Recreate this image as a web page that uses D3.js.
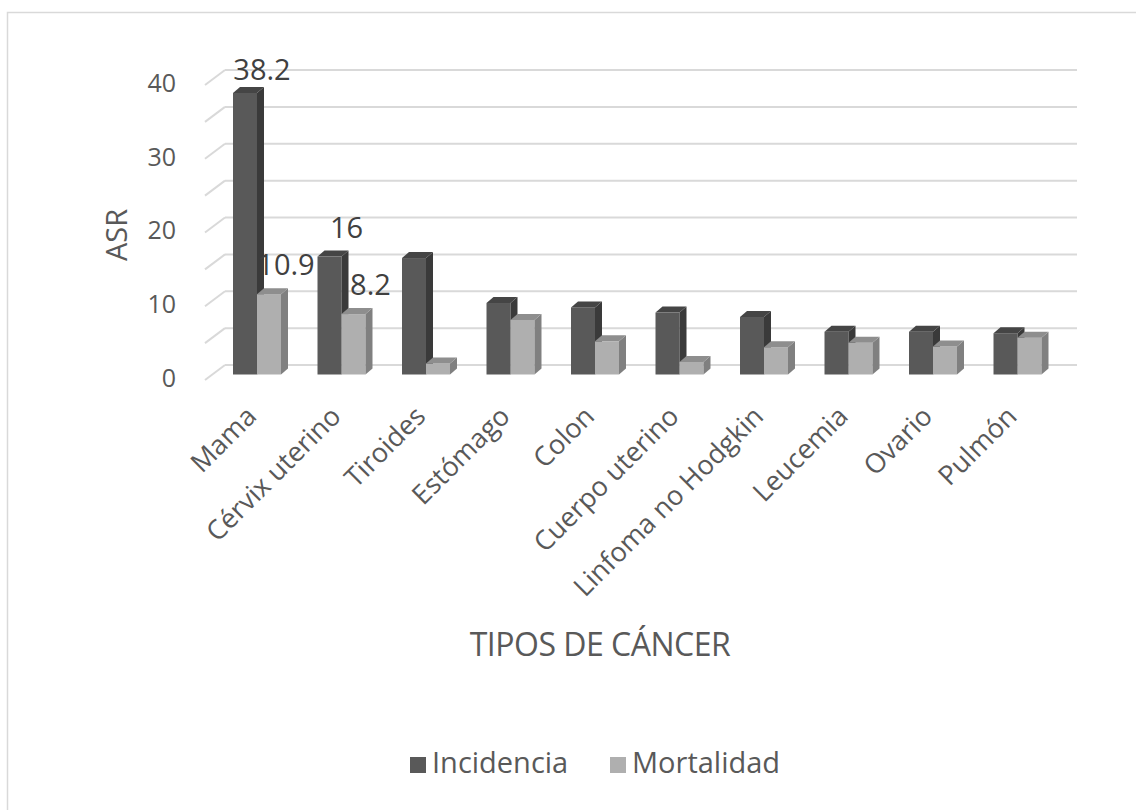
<!DOCTYPE html>
<head>
<meta charset="utf-8">
<script src="https://d3js.org/d3.v7.min.js"></script>
<style>
body { margin: 0; background-color: #ffffff; }
text { font-family: "Open Sans", "Noto Sans", sans-serif; fill: #595959; }
</style>
</head>
<body>
<div id="my_dataviz"></div>
<script>

// data
var categories = ["Mama", "Cérvix uterino", "Tiroides", "Estómago", "Colon",
  "Cuerpo uterino", "Linfoma no Hodgkin", "Leucemia", "Ovario", "Pulmón"];
var series = ["Incidencia", "Mortalidad"];
var incidencia = [38.2, 16.0, 15.8, 9.7, 9.1, 8.4, 7.8, 5.8, 5.8, 5.6];
var mortalidad = [10.9, 8.2, 1.5, 7.4, 4.5, 1.7, 3.7, 4.3, 3.8, 5.0];
var labelled = ["Mama", "Cérvix uterino"];   // only these carry data labels
var yTicks = [0, 10, 20, 30, 40];
var gridValues = [0, 5, 10, 15, 20, 25, 30, 35, 40];

var width = 1136, height = 810;

var svg = d3.select("#my_dataviz")
  .append("svg")
    .attr("width", width)
    .attr("height", height);

// chart area border
svg.append("rect")
  .attr("x", 7.5).attr("y", 12.5)
  .attr("width", 1140).attr("height", 820)
  .style("fill", "none")
  .style("stroke", "#d9d9d9")
  .style("stroke-width", 1.5);

// scales: front plane for bars, back wall for the gridlines
var x = d3.scaleBand()
  .domain(categories)
  .range([214.75, 1059.75])
  .paddingInner(0.432)
  .paddingOuter(0.216);

var xSub = d3.scaleBand()
  .domain(series)
  .range([0, x.bandwidth()]);

var y = d3.scaleLinear().domain([0, 40]).range([374.5, 79.7]);
var yBack = d3.scaleLinear().domain([0, 40]).range([365, 70]);
var yWall = d3.scaleLinear().domain([0, 40]).range([380, 85]);

var wallX0 = 205, wallX1 = 225, wallRight = 1077;

// back wall gridlines + left wall diagonals
var grid = svg.append("g");
grid.selectAll(".hgrid")
  .data(gridValues)
  .enter().append("line")
    .attr("x1", wallX1).attr("x2", wallRight)
    .attr("y1", function(d){ return yBack(d); })
    .attr("y2", function(d){ return yBack(d); })
    .style("stroke", "#d9d9d9").style("stroke-width", 2);
grid.selectAll(".dgrid")
  .data(gridValues)
  .enter().append("line")
    .attr("x1", wallX0).attr("x2", wallX1)
    .attr("y1", function(d){ return yWall(d); })
    .attr("y2", function(d){ return yBack(d); })
    .style("stroke", "#d9d9d9").style("stroke-width", 2);

// y tick labels
svg.append("g").selectAll("text")
  .data(yTicks)
  .enter().append("text")
    .attr("x", 176)
    .attr("y", function(d){ return yWall(d) - 2; })
    .attr("dy", "0.35em")
    .attr("text-anchor", "end")
    .style("font-size", "25px")
    .text(function(d){ return d; });

// y axis title
svg.append("text")
  .attr("transform", "translate(127,235) rotate(-90)")
  .attr("text-anchor", "middle")
  .style("font-size", "29px")
  .text("ASR");

// 3d bars
var depthX = 7, depthY = 6;
var colors = {
  "Incidencia": {front: "#595959", side: "#3a3a3a", top: "#454545"},
  "Mortalidad": {front: "#afafaf", side: "#808080", top: "#8e8e8e"}
};
var rows = categories.map(function(c, i) {
  return {cat: c, values: [
    {s: "Incidencia", v: incidencia[i]},
    {s: "Mortalidad", v: mortalidad[i]}
  ]};
});

var groups = svg.append("g").selectAll("g")
  .data(rows)
  .enter().append("g")
    .attr("transform", function(d){ return "translate(" + x(d.cat) + ",0)"; });

groups.each(function(row) {
  var g = d3.select(this);
  row.values.forEach(function(d) {
    var x0 = xSub(d.s), w = xSub.bandwidth();
    var yt = y(d.v), yb = y(0);
    var c = colors[d.s];
    g.append("rect")
      .attr("x", x0).attr("y", yt)
      .attr("width", w).attr("height", yb - yt)
      .style("fill", c.front);
    g.append("polygon")
      .attr("points", [[x0 + w, yt], [x0 + w + depthX, yt - depthY],
                       [x0 + w + depthX, yb - depthY], [x0 + w, yb]].join(" "))
      .style("fill", c.side);
    g.append("polygon")
      .attr("points", [[x0, yt], [x0 + depthX, yt - depthY],
                       [x0 + w + depthX, yt - depthY], [x0 + w, yt]].join(" "))
      .style("fill", c.top);
  });
  if (labelled.indexOf(row.cat) >= 0) {
    row.values.forEach(function(d) {
      g.append("text")
        .attr("x", xSub(d.s) + xSub.bandwidth() / 2 + 17)
        .attr("y", Math.max(y(d.v) - 19, 80))
        .attr("text-anchor", "middle")
        .style("font-size", "29px")
        .style("fill", "#404040")
        .text(d3.format("~r")(d.v));
    });
  }
});

// category labels
svg.append("g").selectAll("text")
  .data(categories)
  .enter().append("text")
    .attr("transform", function(d){
      return "translate(" + (x(d) + x.bandwidth() / 2 + 1) + ",418) rotate(-45)";
    })
    .attr("text-anchor", "end")
    .style("font-size", "27px")
    .text(function(d){ return d; });

// x axis title
svg.append("text")
  .attr("x", 600).attr("y", 656)
  .attr("text-anchor", "middle")
  .style("font-size", "32px")
  .style("letter-spacing", "-0.5px")
  .text("TIPOS DE CÁNCER");

// legend
var legend = svg.append("g").attr("transform", "translate(410,773)");
var legX = [0, 200];
series.forEach(function(s, i) {
  legend.append("rect")
    .attr("x", legX[i]).attr("y", -16)
    .attr("width", 16).attr("height", 16)
    .style("fill", colors[s].front);
  legend.append("text")
    .attr("x", legX[i] + 22).attr("y", 0)
    .style("font-size", "29px")
    .text(s);
});

</script>
</body>
